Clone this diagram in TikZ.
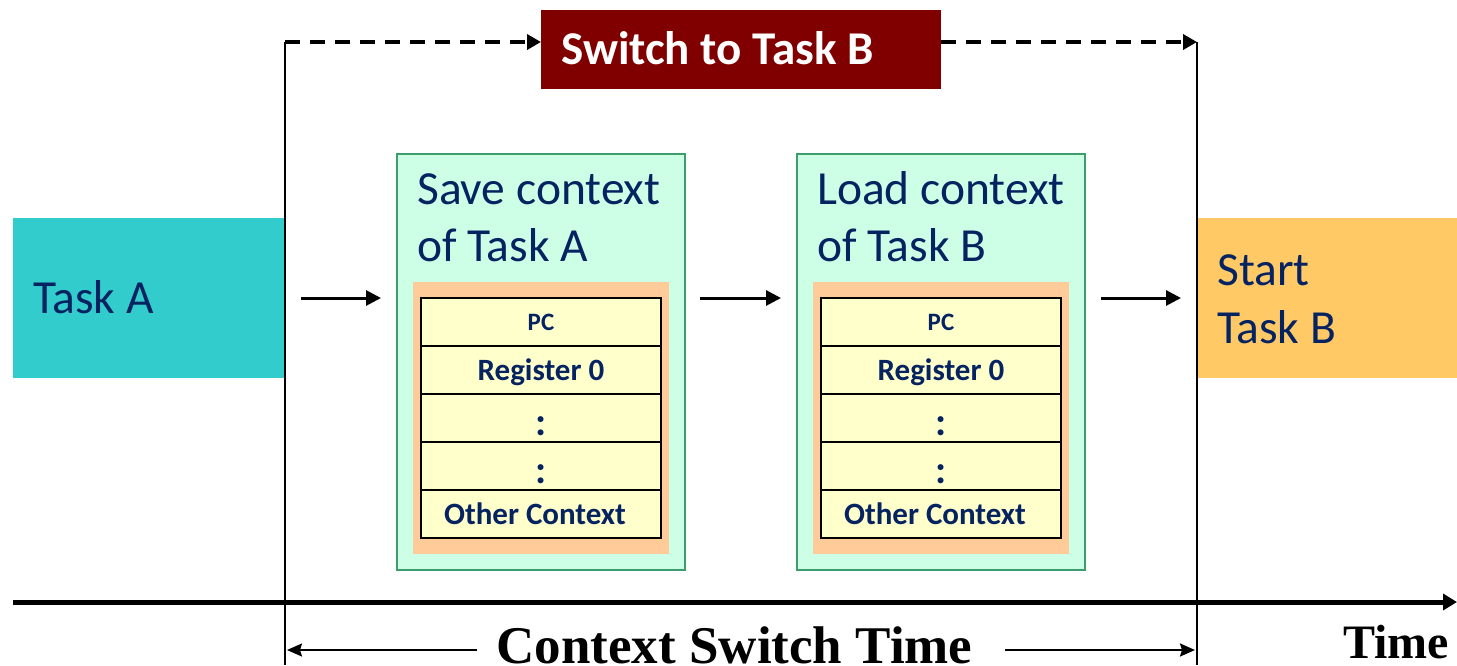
\documentclass[tikz,border=0pt]{standalone}
\usepackage{fontspec}
\setmainfont{Carlito}
\newfontfamily\tnr{Liberation Serif}
\usetikzlibrary{arrows.meta}
\definecolor{txtblue}{HTML}{052261}
\definecolor{taskAcol}{HTML}{33CCCC}
\definecolor{taskBcol}{HTML}{FFC966}
\definecolor{swcol}{HTML}{800000}
\definecolor{mint}{HTML}{CCFFE5}
\definecolor{mintborder}{HTML}{3E9D6C}
\definecolor{peach}{HTML}{FFCC99}
\definecolor{cellyellow}{HTML}{FFFFCC}
\begin{document}
\begin{tikzpicture}[x=1pt,y=-1pt,
  box/.style={anchor=north west, inner sep=0pt, outer sep=0pt},
  lbl/.style={anchor=base west, inner sep=0pt, text=txtblue, font=\fontsize{47.5}{58}\selectfont},
  cell/.style={box, draw=black, line width=1.8pt, fill=cellyellow, minimum width=240pt, minimum height=48pt,
     text=txtblue, font=\bfseries\fontsize{31}{36}\selectfont, text height=20pt, text depth=0pt},
  pccell/.style={cell, font=\bfseries\fontsize{25}{30}\selectfont, text height=17pt},
  dotcell/.style={cell, font=\bfseries\fontsize{40}{44}\selectfont, text height=34pt},
  ctxbox/.style={box, draw=mintborder, line width=2pt, fill=mint, minimum width=288pt, minimum height=416pt},
  peachbox/.style={box, fill=peach, minimum width=256pt, minimum height=272pt},
  vline/.style={line width=2pt, draw=black},
  dasharrow/.style={line width=3.5pt, dash pattern=on 15pt off 10pt, -{Triangle[length=14pt,width=15pt]}},
  flowarrow/.style={line width=3pt, -{Triangle[length=15pt,width=15pt]}},
  thinarrow/.style={line width=2pt, -{Stealth[length=15pt,width=13pt,inset=2pt]}},
]
\useasboundingbox (0,0) rectangle (1457,665);

% Task boxes
\node[box, fill=taskAcol, minimum width=272pt, minimum height=160pt] (tA) at (13,218) {};
\node[lbl] (tAlbl) at (33,313) {Task A};
\node[box, fill=taskBcol, minimum width=260pt, minimum height=160pt] (tB) at (1197,218) {};
\node[lbl] (tBlbl1) at (1217,285) {Start};
\node[lbl] (tBlbl2) at (1217,343) {Task B};

% Switch box
\node[box, fill=swcol, minimum width=400pt, minimum height=79pt] (sw) at (541,10) {};
\node[anchor=base west, inner sep=0pt, text=white, font=\bfseries\fontsize{47}{56}\selectfont] (swlbl) at (561,64) {Switch to Task B};

% Save context
\node[ctxbox] (save) at (397,154) {};
\node[lbl] (saveT1) at (417,204) {Save context};
\node[lbl] (saveT2) at (417,261) {of Task A};
\node[peachbox] (saveP) at (413,282) {};
\node[pccell] (sr1) at (421,298) {PC};
\node[cell] (sr2) at (421,346) {Register 0};
\node[dotcell] (sr3) at (421,394) {:};
\node[dotcell] (sr4) at (421,442) {:};
\node[cell] (sr5) at (421,490) {\hspace{-12pt}Other Context};

% Load context
\node[ctxbox] (load) at (797,154) {};
\node[lbl] (loadT1) at (817,204) {Load context};
\node[lbl] (loadT2) at (817,261) {of Task B};
\node[peachbox] (loadP) at (813,282) {};
\node[pccell] (lr1) at (821,298) {PC};
\node[cell] (lr2) at (821,346) {Register 0};
\node[dotcell] (lr3) at (821,394) {:};
\node[dotcell] (lr4) at (821,442) {:};
\node[cell] (lr5) at (821,490) {\hspace{-12pt}Other Context};

% flow arrows
\draw[flowarrow, shorten <=16pt, shorten >=16pt] (tA.east) -- (tA.east -| save.west);
\draw[flowarrow, shorten <=15pt, shorten >=16pt] (tA.east -| save.east) -- (tA.east -| load.west);
\draw[flowarrow, shorten <=16pt, shorten >=16pt] (tA.east -| load.east) -- (tA.east -| tB.west);

% frame lines
\coordinate (tl) at (285,42);
\coordinate (tr) at (1197,42);
\coordinate (bl) at (285,665);
\coordinate (br) at (1197,665);
\draw[vline] (tl) -- (bl);
\draw[vline] (tr) -- (br);
\draw[dasharrow] (tl) -- (tl -| sw.west);
\draw[dasharrow] (tl -| sw.east) -- (tr);

% time axis
\coordinate (t0) at (13,602);
\coordinate (t1) at (1457,602);
\draw[line width=5pt, -{Triangle[length=14pt,width=16pt]}] (t0) -- (t1);

% context switch time
\node[anchor=base, inner sep=0pt, font=\tnr\bfseries\fontsize{53}{56}\selectfont] (cst) at (734.5,663) {Context Switch Time};
\coordinate (ca) at (477,650);
\coordinate (cb) at (1005,650);
\draw[thinarrow, shorten >=2pt] (ca) -- (ca -| bl);
\draw[thinarrow, shorten >=2pt] (cb) -- (cb -| br);
\node[anchor=base east, inner sep=0pt, font=\tnr\bfseries\fontsize{48}{50}\selectfont] (time) at (1449,658) {Time};
\end{tikzpicture}
\end{document}
